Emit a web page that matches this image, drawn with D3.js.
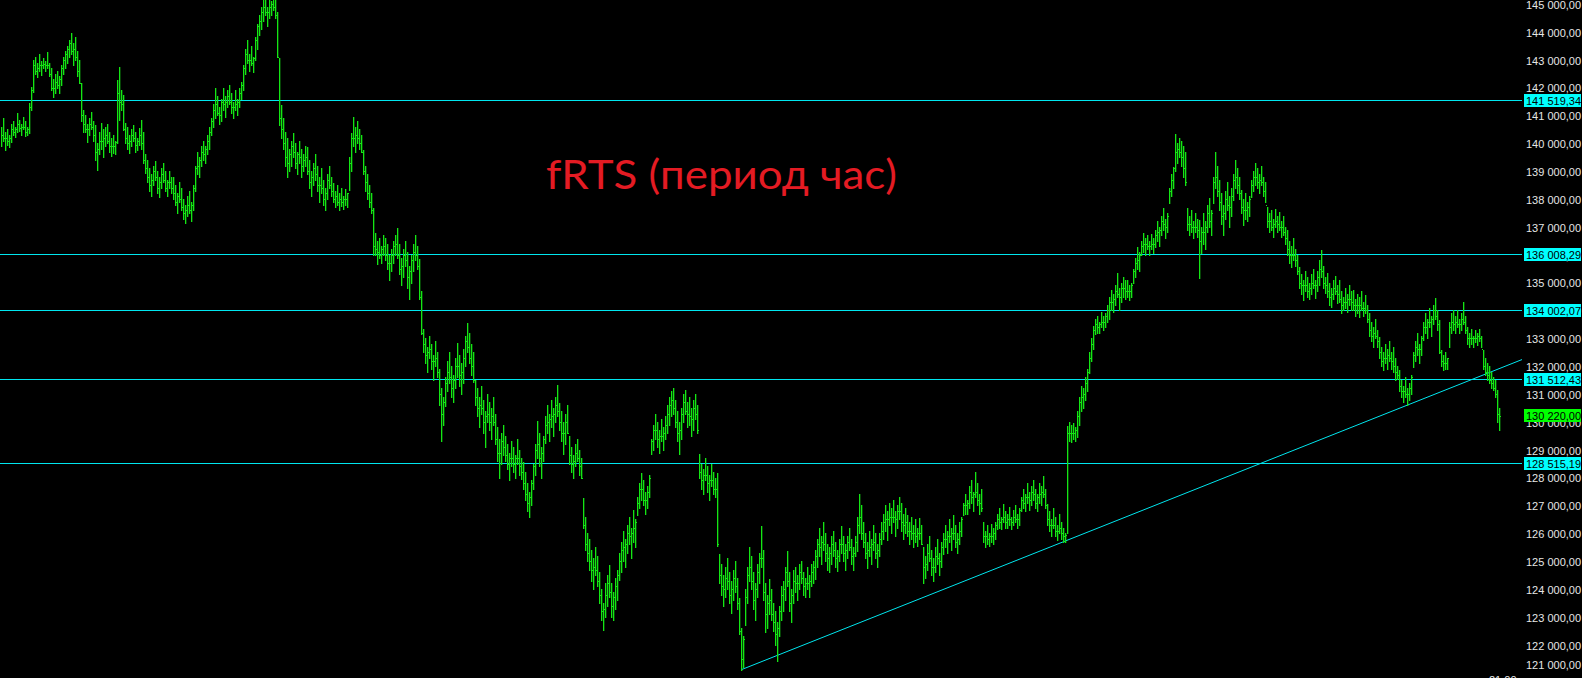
<!DOCTYPE html>
<html>
<head>
<meta charset="utf-8">
<script src="https://cdn.jsdelivr.net/npm/d3@7"></script>
<style>
  html, body { margin: 0; padding: 0; background: #000; overflow: hidden; }
  svg { display: block; }
</style>
</head>
<body>
<div id="chart"></div>
<script>
// hourly bars (one bar every 2px)
const highs = [
  140600,140910,140400,140500,140300,140700,140800,140600,141090,140850,
  140700,140950,140800,140600,141440,142020,142990,143100,142900,143200,
  142950,143050,142950,143270,142900,142700,142300,142500,142600,142400,
  142800,143100,143300,143500,143700,143960,143600,143800,143300,143000,
  142160,141200,141000,140700,140900,141120,140800,140650,140000,140400,
  140730,140500,140600,140700,140400,140200,140300,140100,142270,142740,
  141910,141730,140730,140600,140300,140500,140650,140400,140200,140550,
  140830,140400,139600,139400,139100,138900,139200,139350,139000,138800,
  139100,139300,139000,138700,139000,138800,138790,138500,138200,138600,
  138400,138000,137800,138100,138300,137900,138500,139200,139700,139500,
  139900,140100,139900,140300,140580,140900,141400,141980,141700,141300,
  141600,142000,141700,141900,142090,141800,141500,141900,141600,142000,
  142200,142800,143400,143700,143200,143500,143100,143800,144300,144600,
  144900,145140,145300,144900,145200,145100,145350,145200,144710,143060,
  141370,140900,140400,140200,139800,140100,140370,140000,139700,140100,
  139800,139600,139900,139860,139400,139000,139300,139600,139200,138800,
  139100,138700,138400,138900,139200,138800,138570,138300,138500,138200,
  138400,138100,138350,138200,139500,140370,140940,140600,140800,140500,
  140300,139760,139200,138900,138500,138200,137670,136780,136500,136600,
  136300,136700,136600,136400,136000,136200,136500,136700,136960,136400,
  135900,136200,136500,136100,135600,136000,136400,136700,136300,135840,
  134700,133330,133000,132700,133100,132800,132400,132900,132500,131900,
  131200,130900,131600,132200,132500,132000,131700,132300,132830,132400,
  132100,132600,133100,133550,133200,132800,132500,131500,131200,130900,
  131300,130800,130400,131000,130700,130500,130900,130280,129800,129400,
  129600,129900,129490,129200,128900,129300,129100,128800,129400,129000,
  128700,128560,128200,127800,127500,127900,128500,129200,130030,129600,
  129100,129500,130200,130600,130300,130800,130500,130900,131320,130680,
  130400,130000,130300,130600,129490,129100,128800,129200,129400,129000,
  128700,127270,126600,126000,125800,125400,125100,125500,125200,124600,
  124000,123500,124200,124500,124860,124200,123900,124400,124700,125300,
  125700,126100,125800,126300,126600,126200,126840,126500,127300,127800,
  128160,127900,127500,127700,128100,129400,129900,130280,130000,129700,
  130100,129800,130200,130600,130900,131100,131210,130800,130400,130000,
  130500,131000,131150,130700,130900,130500,130800,131000,130600,128850,
  128500,128300,128700,128400,128100,128500,128200,128000,128160,125260,
  124900,124500,124800,125100,124600,124300,124700,125000,124400,123680,
  122600,122300,124000,124800,125510,125200,124600,124200,124900,125300,
  126260,125400,124200,123800,124360,124000,123500,123200,122800,123400,
  124100,124300,124800,125360,124600,124000,124700,124800,124500,124900,
  125010,124600,124400,124800,124500,124900,125000,125400,125800,126200,
  125900,126410,126000,125600,125500,125900,126100,125700,125400,125800,
  126260,125900,125600,125900,126200,125800,125500,125900,126600,127410,
  127000,126410,126000,125700,126100,125800,126300,126000,125600,126000,
  126400,126700,127000,126800,127100,126900,127200,126800,127000,127300,
  127100,126700,126900,126660,126400,126600,126300,126500,126200,126550,
  126300,125500,125200,125600,125900,125400,125100,125500,125800,125300,
  125700,126000,126300,126100,126500,126200,126660,126300,126000,126400,
  126600,127100,127400,127200,127700,127900,127500,128200,127800,127400,
  127600,126410,126100,126300,126000,126350,126200,126400,126700,126900,
  126600,127050,126800,126700,126950,126600,126850,127000,126700,126900,
  127300,127600,127400,127800,127500,127700,127900,127600,127400,127800,
  127700,128060,127600,127050,126800,126500,126900,126600,126300,126700,
  126400,126200,126000,129850,130000,129900,129950,129800,130400,130900,
  131300,131200,131600,131900,132500,133000,133440,133700,133800,133600,
  133940,133800,133900,134200,134500,134730,134600,134900,135340,134800,
  135000,135200,135100,135090,134900,135000,135500,135900,136280,136100,
  136500,136780,136600,136700,136500,136750,136600,136900,137200,137000,
  137400,137670,137300,137500,138400,138900,139150,140330,140000,140200,
  140100,139900,139700,137670,137400,137600,137200,137500,137300,137240,
  137000,137500,137200,137800,138030,137600,138800,139690,139200,138680,
  138200,137800,138300,138600,138100,138400,138900,139400,139100,138800,
  138320,138000,138200,137900,138100,138700,139000,139290,139100,138900,
  139200,138800,138600,137710,137500,137600,137300,137650,137400,137550,
  137200,137400,137000,136890,136500,136300,136600,136200,136000,135560,
  135300,135100,135400,135200,135000,135300,135500,135100,135400,135800,
  136170,135600,135200,135340,135000,134800,135100,135250,134900,135090,
  134700,134500,134800,134600,134900,134700,134730,134400,134600,134500,
  134700,134300,134550,134200,133910,133600,133400,133700,133300,133050,
  132700,132500,132800,132600,132900,132500,132690,132300,132000,131860,
  131500,131300,131600,131200,131400,131700,132500,132900,133190,132800,
  133100,133600,133900,133700,134100,133800,134200,134450,134000,133660,
  132580,132400,132500,132300,133600,133900,134010,133800,134000,133700,
  133900,134300,133800,133400,133200,133350,133100,133300,133200,133350,
  133100,132580,132300,132100,132000,131800,131600,131500,131140,130500
];

const lows = [
  139900,140100,139760,139950,139850,140050,140300,140220,140400,140450,
  140300,140500,140250,140300,140370,141190,141840,142500,142380,142600,
  142450,142700,142600,142700,142400,141900,141660,141800,142000,141800,
  142100,142500,142700,142900,143100,143200,142800,143000,142400,142160,
  140800,140400,140400,140040,140300,140500,140100,139400,139040,139600,
  139800,139510,139900,140000,139700,139550,139650,139600,140010,140830,
  141190,140470,140000,139800,139650,139900,140100,139700,139750,139950,
  139800,139300,138930,138600,138300,138100,138500,138700,138200,138070,
  138400,138600,138300,138100,138400,138200,138000,137800,137500,137900,
  137600,137300,137140,137400,137500,137200,137600,138300,138900,138800,
  139200,139400,139300,139600,139800,140300,140600,140900,141000,140700,
  140800,141200,140950,141300,141400,141100,140900,141200,141000,141300,
  141600,141900,142500,142900,142600,142800,142560,143000,143400,143900,
  144100,144400,144600,144200,144500,144600,144800,144500,143090,140650,
  140200,139800,139200,138790,139000,139200,139500,139100,138900,139300,
  138790,139000,139200,138900,138400,138100,138500,138700,138300,137900,
  138200,137800,137600,138000,138400,138100,137900,137700,137800,137600,
  137750,137650,137800,137700,138320,139000,139900,139690,140000,139800,
  139700,138900,138300,138000,137700,137500,135990,136000,135670,135900,
  135700,136000,135800,135500,135100,135400,135700,136000,135900,135300,
  134900,135200,135600,134800,134410,135000,135400,135800,135500,134400,
  133150,132500,132100,131800,132300,131900,131500,132000,131600,130600,
  129310,129900,130570,131100,131400,130900,130700,131200,131600,131300,
  131000,131400,132000,132500,132100,131700,131430,130600,130200,129800,
  130300,129600,129100,130000,129700,129400,129900,129200,128600,127980,
  128500,128800,128600,128300,127910,128400,128200,128000,128500,128100,
  127950,127600,127200,126800,126580,127000,127590,128100,128700,128400,
  128000,128600,129240,129600,129300,129800,129500,130000,130200,129700,
  129300,128850,129200,129600,128500,128200,127980,128400,128600,128100,
  128000,126200,125400,125010,124700,124300,124000,124500,124100,123500,
  122900,122530,123000,123400,123700,123000,122890,123300,123600,124320,
  124600,125000,124800,125300,125600,125100,125700,125500,126660,126900,
  127200,127000,126700,126900,127300,128850,129000,129400,129100,128900,
  129300,129000,129400,129600,129900,130200,130300,129800,129300,128850,
  129400,130000,130300,129800,129900,129500,129700,130100,129600,128000,
  127600,127400,127900,127500,127200,127700,127400,127300,125540,124200,
  123800,123400,123700,124000,123500,123140,123600,123900,123300,122400,
  121090,121200,122710,123500,124300,124000,123300,122900,123700,124200,
  124800,123600,122460,122600,123100,122900,122500,122000,121420,122300,
  122900,123200,123600,124100,123200,122820,123500,123900,123610,124000,
  124200,123800,123700,124000,123700,124100,124200,124360,124800,125200,
  124900,125400,125000,124700,124610,124900,125200,124800,124650,125000,
  125300,125000,124700,125100,125400,124900,124700,125200,125360,126000,
  125800,125500,125100,124750,125200,124900,125400,125100,124800,125200,
  125600,125800,126100,125760,126300,126000,126400,125900,126200,126500,
  126100,125800,126000,125900,125600,125800,125510,125700,125550,125800,
  125600,124220,124400,124700,125000,124500,124300,124600,124900,124500,
  124800,125260,125500,125300,125700,125400,125800,125500,125300,125600,
  125900,126660,126700,126700,126900,127100,126800,127300,127000,126700,
  126800,125700,125510,125600,125550,125700,125600,125800,126150,126200,
  126150,126400,126200,126200,126300,126150,126300,126400,126200,126300,
  126800,126900,126800,127100,126850,127000,127200,126900,126800,127100,
  127000,127300,126900,126300,126100,125900,126200,125900,125760,126000,
  125800,125700,125690,126000,129300,129280,129400,129300,129460,129900,
  130400,130500,130800,131100,131750,132200,132600,133150,133200,133200,
  133400,133300,133400,133600,133700,134000,133940,134200,134500,134000,
  134300,134500,134400,134500,134370,134500,134980,135200,135500,135400,
  135990,136100,136000,136200,136000,136200,136050,136280,136500,136300,
  136700,136900,136600,136800,137850,138100,138400,139000,139300,139500,
  139200,138800,138500,136900,136700,136800,136600,136800,136650,135160,
  136060,136400,136200,136800,137000,136700,137850,138400,138100,137600,
  137100,136710,137300,137600,137000,137400,137960,138400,138200,138000,
  137500,137070,137300,137200,137400,138070,138300,138500,138400,138200,
  138500,138100,137900,137000,136800,136900,136630,137000,136800,136900,
  136650,136700,136400,136000,135700,135560,135800,135600,135300,134800,
  134600,134370,134700,134500,134400,134600,134800,134450,134700,134900,
  135200,134800,134620,134500,134200,134120,134400,134600,134250,134300,
  133910,134000,134100,133950,134200,134000,134000,133800,133900,133760,
  134000,133800,133900,133600,133100,132900,132690,133000,132700,132300,
  132000,131860,132100,131900,132200,131900,131800,131500,131550,131100,
  130900,130700,130900,130600,130800,131000,131970,132200,132400,132100,
  132400,132940,133200,133000,133400,133100,133500,133700,133300,132470,
  132000,131860,131900,131900,132700,133200,133300,133190,133400,133200,
  133300,133500,133200,132800,132690,132800,132700,132850,132750,132900,
  132700,131900,131700,131500,131400,131200,131140,130900,130000,129710
];

// close of each bar (the next bar opens there)
const closes = [
  140300,140200,140200,140100,140200,140500,140400,140500,140700,140550,
  140600,140600,140400,140500,141300,141900,142800,142600,142700,142800,
  142800,142850,142800,142800,142500,142000,142000,142200,142100,142300,
  142700,143000,143200,143400,143600,143300,143400,143100,142600,142160,
  141000,140700,140500,140500,140700,140600,140300,139700,139800,140100,
  140100,140200,140300,140100,139900,139900,139900,140050,141800,141500,
  141400,140500,140200,140000,140100,140300,140200,139950,140100,140300,
  140000,139400,139100,138800,138500,138700,139000,138800,138400,138600,
  138900,138700,138400,138600,138600,138400,138200,137900,138100,138000,
  137700,137500,137600,137800,137600,137800,138400,139100,139200,139400,
  139700,139600,139800,140100,140400,140800,141200,141400,141100,141000,
  141500,141400,141500,141700,141500,141300,141300,141400,141500,141800,
  142100,142700,143200,143000,143000,142900,143050,143700,144200,144400,
  144700,144900,144700,144700,144900,145000,144900,144600,143100,140900,
  140500,140000,139500,139300,139600,139900,139700,139300,139600,139500,
  139200,139400,139500,139000,138600,138800,139100,138900,138500,138500,
  138400,138000,138200,138700,138500,138300,138000,138100,137900,138000,
  137900,138000,138000,138200,139300,140200,140200,140300,140200,140000,
  139700,139000,138600,138200,137900,137600,136300,136200,136100,136000,
  136200,136300,136000,135700,135700,136000,136300,136400,136000,135500,
  135600,136000,135800,135200,135400,135800,136100,136000,135600,134500,
  133200,132800,132400,132500,132600,132200,132200,132300,131800,131000,
  130300,130700,131400,131800,131600,131200,131500,132000,132000,131700,
  131800,132300,132900,132700,132300,132000,131500,130900,130500,130600,
  130500,130000,130200,130300,130000,130200,130000,129400,128900,128900,
  129300,129100,128800,128500,128700,128700,128500,128700,128700,128400,
  128200,127800,127400,127100,127300,127800,128400,129000,129200,128700,
  128900,129400,129900,130000,130100,130200,130300,130600,130400,130000,
  129600,129600,130000,129600,128800,128500,128600,128900,128700,128400,
  128000,126300,125600,125300,125000,124700,124800,124700,124300,123800,
  123200,123300,123800,124200,123900,123400,123700,124100,124500,125000,
  125400,125500,125600,126000,125900,126000,126200,126400,127100,127600,
  127600,127200,127200,127500,128000,129300,129700,129700,129400,129500,
  129500,129600,129900,130300,130600,130800,130500,130000,129600,129700,
  130300,130700,130400,130300,130200,130100,130500,130300,129700,128200,
  127900,128100,128100,127800,127900,127900,127600,127600,125600,124500,
  124100,124000,124400,124300,123800,124000,124400,124100,123500,122500,
  121500,122200,123700,124500,124800,124300,123600,124000,124600,125100,
  125100,123900,123100,123500,123600,123100,122800,122400,122600,123200,
  123800,124000,124600,124300,123500,123800,124300,124200,124200,124600,
  124400,124100,124200,124200,124300,124600,124800,125200,125600,125500,
  125700,125600,125300,125100,125300,125600,125400,125100,125200,125600,
  125600,125300,125400,125700,125500,125200,125300,125700,126300,126600,
  126000,125700,125300,125400,125500,125600,125700,125300,125400,125800,
  126100,126400,126500,126500,126600,126600,126600,126500,126800,126800,
  126400,126300,126400,126100,126100,126000,126000,125900,126000,126000,
  125600,124800,124900,125300,125100,124800,124800,125200,125100,125000,
  125500,125800,125800,125900,125900,126000,126000,125700,125800,126100,
  126500,127000,127000,127100,127500,127300,127400,127500,127200,127100,
  126900,125900,125900,125800,125900,125900,126000,126300,126500,126400,
  126500,126600,126400,126500,126500,126400,126600,126500,126500,126850,
  127200,127100,127300,127300,127200,127500,127400,127100,127300,127400,
  127500,127400,127000,126500,126300,126300,126300,126100,126100,126200,
  126000,125900,125950,129600,129600,129600,129600,129700,130200,130700,
  130900,131000,131400,131800,132300,132800,133300,133500,133400,133500,
  133600,133600,133800,134000,134300,134300,134400,134700,134600,134500,
  134800,134800,134700,134700,134700,134900,135400,135700,135800,136000,
  136300,136400,136400,136300,136300,136400,136400,136700,136800,136900,
  137200,137100,137000,137400,138300,138700,139100,139700,139800,139700,
  139500,139100,138600,137100,137100,137000,137000,137000,136900,136500,
  136800,136800,137000,137500,137200,137500,138600,138800,138300,137900,
  137400,137500,138000,137800,137700,138100,138700,138800,138500,138200,
  137700,137600,137600,137700,138000,138500,138800,138800,138600,138700,
  138600,138300,137800,137200,137200,137000,137100,137200,137100,137000,
  137000,136800,136600,136200,136000,136000,136000,135800,135400,135000,
  134900,134900,134900,134700,134800,135000,134900,134900,135200,135500,
  135400,135000,134900,134700,134500,134600,134800,134700,134600,134400,
  134200,134300,134300,134400,134400,134300,134200,134200,134200,134200,
  134100,134100,134000,133700,133300,133100,133200,133100,132900,132500,
  132200,132300,132300,132400,132300,132200,132000,131800,131700,131300,
  131100,131100,131000,131000,131200,131600,132400,132700,132600,132600,
  133000,133400,133400,133600,133600,133700,134000,133800,133500,132500,
  132200,132100,132100,132300,133400,133600,133500,133600,133500,133500,
  133700,133600,133300,133000,133000,133000,133000,133000,133100,133000,
  132600,132000,131800,131700,131500,131400,131200,131000,130300,130220
];

// horizontal levels and the support line (two anchor bars)
const levels = [141519.34, 136008.29, 134002.07, 131512.43, 128515.19];
const trendBars = [370, 532];
const trendPrices = [121100, 125720];

const priceTicks = d3.range(121000, 145001, 1000);
const timeBars = [744];
const timeLabels = ['21:00'];
const titleText = 'fRTS (период час)';

const colors = {
    bg: '#000000',
    bar: '#14e614',
    level: '#00e6ee',
    levelBox: '#00ffff',
    lastBox: '#00ff00',
    axisText: '#e6e6e6',
    title: '#e41b23'
};

const W = 1582;
const H = 678;
const plotRight = 1522;

const ru = d3.formatLocale({ decimal: ',', thousands: '\u00a0', grouping: [3], currency: ['', ''] });
const fmt = ru.format(',.2f');

/**
 * Draws the whole terminal-like chart
 */
const drawChart = () => {
    const x = d3.scaleLinear().domain([0, highs.length - 1]).range([1, 1499]);
    const y = d3.scaleLinear().domain([121000, 145000]).range([672.6, 4]);
    const lastPrice = closes[closes.length - 1];

    const svg = d3.select('#chart').append('svg')
        .attr('width', W)
        .attr('height', H)
        .style('background', colors.bg);

    svg.append('defs').append('clipPath')
        .attr('id', 'plot-clip')
        .append('rect')
        .attr('x', 0).attr('y', 0)
        .attr('width', plotRight).attr('height', H);

    const plot = svg.append('g').attr('clip-path', 'url(#plot-clip)');

    // title
    plot.append('text')
        .attr('x', 546)
        .attr('y', 189)
        .attr('textLength', 351)
        .attr('lengthAdjust', 'spacingAndGlyphs')
        .style('font-family', 'Lato, "Open Sans", sans-serif')
        .style('font-size', '41px')
        .style('fill', colors.title)
        .text(titleText);

    // horizontal levels
    plot.selectAll('.level')
        .data(levels)
        .enter()
        .append('line')
        .attr('class', 'level')
        .attr('x1', 0)
        .attr('x2', plotRight)
        .attr('y1', d => Math.floor(y(d)) + 0.5)
        .attr('y2', d => Math.floor(y(d)) + 0.5)
        .attr('stroke', colors.level)
        .attr('stroke-width', 1);

    // trend line, extended to the right edge
    const trend = d3.scaleLinear().domain(trendBars).range(trendPrices);
    const endBar = x.invert(plotRight);
    plot.append('line')
        .attr('x1', x(trendBars[0]))
        .attr('y1', y(trendPrices[0]))
        .attr('x2', plotRight)
        .attr('y2', y(trend(endBar)))
        .attr('stroke', colors.level)
        .attr('stroke-width', 1);

    // bars: high-low stick plus close tick on the right
    const bars = plot.append('g');

    bars.selectAll('.hl')
        .data(highs)
        .enter()
        .append('rect')
        .attr('class', 'hl')
        .attr('x', (d, i) => Math.round(x(i)))
        .attr('width', 1.3)
        .attr('y', d => Math.round(y(d)))
        .attr('height', (d, i) => Math.max(1, Math.round(y(lows[i])) - Math.round(y(d)) + 1))
        .attr('fill', colors.bar);

    bars.selectAll('.cl')
        .data(closes)
        .enter()
        .append('rect')
        .attr('class', 'cl')
        .attr('x', (d, i) => Math.round(x(i)) + 1)
        .attr('width', 1)
        .attr('y', d => Math.round(y(d)))
        .attr('height', 1)
        .attr('fill', colors.bar);

    // price scale labels
    const axis = svg.append('g')
        .style('font-family', '"Liberation Sans", Arial, sans-serif')
        .style('font-size', '11px');

    axis.selectAll('.tick')
        .data(priceTicks)
        .enter()
        .append('text')
        .attr('class', 'tick')
        .attr('x', 1526)
        .attr('y', d => Math.min(y(d) + 1, 665.5))
        .attr('dy', '0.35em')
        .style('fill', colors.axisText)
        .text(d => fmt(d));

    const boxes = levels.map(v => ({ v, fill: colors.levelBox }))
        .concat([{ v: lastPrice, fill: colors.lastBox }]);

    const box = axis.selectAll('.box')
        .data(boxes)
        .enter()
        .append('g')
        .attr('class', 'box')
        .attr('transform', d => `translate(0, ${Math.floor(y(d.v))})`);

    box.append('rect')
        .attr('x', 1524)
        .attr('y', -6)
        .attr('width', 57)
        .attr('height', 13)
        .attr('fill', d => d.fill);

    box.append('text')
        .attr('x', 1526)
        .attr('y', 1)
        .attr('dy', '0.35em')
        .style('fill', '#000')
        .text(d => fmt(d.v));

    // time scale, mostly below the visible area
    axis.selectAll('.time')
        .data(timeLabels)
        .enter()
        .append('text')
        .attr('class', 'time')
        .attr('x', (d, i) => x(timeBars[i]))
        .attr('y', 684)
        .style('fill', colors.axisText)
        .text(d => d);
};

if (document.readyState === 'loading') {
    document.addEventListener('DOMContentLoaded', drawChart);
} else {
    drawChart();
}
</script>
</body>
</html>
